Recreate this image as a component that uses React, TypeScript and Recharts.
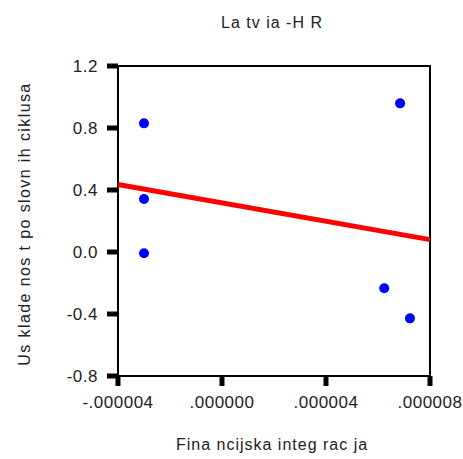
import React from 'react';
import { ScatterChart, Scatter, XAxis, YAxis, ReferenceArea, Label } from 'recharts';

const title = 'La tv ia -H R';
const xLabel = 'Fina ncijska  integ rac ja';
const yLabel = 'Us klade nos t po slovn ih  ciklusa';

const xValues = [-3.0e-6, -3.0e-6, -3.0e-6, 6.85e-6, 6.24e-6, 7.23e-6];
const yValues = [0.83, 0.342, -0.008, 0.959, -0.234, -0.428];

const regX = [-4e-6, 8e-6];
const regY = [0.435, 0.08];

const xDomain = [-4e-6, 8e-6];
const yDomain = [-0.8, 1.2];
const xTicks = [-4e-6, 0, 4e-6, 8e-6];
const xTickLabels = ['-.000004', '.000000', '.000004', '.000008'];
const yTicks = [-0.8, -0.4, 0.0, 0.4, 0.8, 1.2];
const yTickLabels = ['-0.8', '-0.4', '0.0', '0.4', '0.8', '1.2'];

const points = xValues.map((x, i) => ({ x, y: yValues[i] }));
const regLine = regX.map((x, i) => ({ x, y: regY[i] }));

const FONT = '"Liberation Sans", Arial, sans-serif';
const textStyle = { fontFamily: FONT, fontSize: 16, fill: '#222', letterSpacing: 1 };
const tickStyle = { fontFamily: FONT, fontSize: 17, fill: '#222', letterSpacing: 0.5 };

const fmtX = (v: number) => {
  const i = xTicks.findIndex((t) => Math.abs(t - v) < 1e-9);
  return i >= 0 ? xTickLabels[i] : '';
};
const fmtY = (v: number) => {
  const i = yTicks.findIndex((t) => Math.abs(t - v) < 1e-9);
  return i >= 0 ? yTickLabels[i] : '';
};

export default function App() {
  return (
    <div style={{ position: 'absolute', left: 0, top: 0, width: 463, height: 459, background: '#fff' }}>
      <ScatterChart width={463} height={459} margin={{ top: 66, right: 33, bottom: 8, left: 58 }}>
        <XAxis
          type="number"
          dataKey="x"
          domain={xDomain}
          ticks={xTicks}
          tickFormatter={fmtX}
          interval={0}
          height={75}
          tickSize={10}
          tickMargin={10}
          tick={tickStyle}
          tickLine={{ stroke: '#000', strokeWidth: 5 }}
          axisLine={{ stroke: '#000', strokeWidth: 2 }}
          label={{
            content: () => (
              <text x={272} y={450} textAnchor="middle" style={textStyle}>
                {xLabel}
              </text>
            ),
          }}
        />
        <YAxis
          type="number"
          dataKey="y"
          domain={yDomain}
          ticks={yTicks}
          tickFormatter={fmtY}
          interval={0}
          width={60}
          tickSize={11}
          tickMargin={9}
          tick={tickStyle}
          tickLine={{ stroke: '#000', strokeWidth: 5 }}
          axisLine={{ stroke: '#000', strokeWidth: 2 }}
          label={{
            content: () => (
              <text
                x={30}
                y={224}
                textAnchor="middle"
                transform="rotate(-90 30 224)"
                style={{ ...textStyle, letterSpacing: 1.4 }}
              >
                {yLabel}
              </text>
            ),
          }}
        />
        <ReferenceArea
          x1={xDomain[0]}
          x2={xDomain[1]}
          y1={yDomain[0]}
          y2={yDomain[1]}
          fill="none"
          fillOpacity={0}
          stroke="#000"
          strokeWidth={2}
          ifOverflow="visible"
        >
          <Label
            content={() => (
              <text x={272} y={28} textAnchor="middle" style={textStyle}>
                {title}
              </text>
            )}
          />
        </ReferenceArea>
        <Scatter
          data={regLine}
          line={{ stroke: '#ff0000', strokeWidth: 5 }}
          lineType="joint"
          shape={() => <g />}
          isAnimationActive={false}
        />
        <Scatter
          data={points}
          fill="#0000ff"
          isAnimationActive={false}
          shape={(p: any) => <circle cx={p.cx} cy={p.cy} r={5} fill="#0000ff" />}
        />
      </ScatterChart>
    </div>
  );
}
